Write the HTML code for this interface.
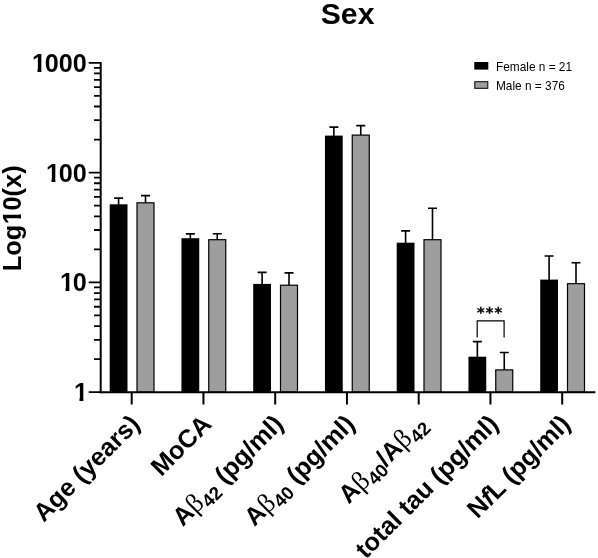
<!DOCTYPE html><html><head><meta charset="utf-8"><title>Sex</title><style>html,body{margin:0;padding:0;background:#fff}svg{display:block}text{font-family:"Liberation Sans",sans-serif;fill:#000}.b{font-weight:bold}</style></head><body>
<svg width="598" height="558" viewBox="0 0 598 558">
<rect width="598" height="558" fill="#fff"/>
<text class="b" x="347.6" y="23.6" font-size="30.2" text-anchor="middle">Sex</text>
<g transform="translate(21.1,218.3) rotate(-90)"><text class="b" font-size="25.4" y="0"><tspan x="-52.92">Log</tspan><tspan x="-5.84">1</tspan><tspan x="7.76">0(x)</tspan></text><path d="M-4.90 -3.40h4.65v4.18h-4.65zM3.72 -3.40h4.49v4.18h-4.49z" fill="#fff"/></g>
<text class="b" y="71.8" font-size="25.2"><tspan x="31.90">1</tspan><tspan x="44.67">000</tspan></text>
<path d="M32.83 68.43h4.61v4.15h-4.61zM41.39 68.43h4.46v4.15h-4.46z" fill="#fff"/>
<text class="b" y="181.6" font-size="25.2"><tspan x="45.91">1</tspan><tspan x="58.68">00</tspan></text>
<path d="M46.84 178.23h4.61v4.15h-4.61zM55.40 178.23h4.46v4.15h-4.46z" fill="#fff"/>
<text class="b" y="291.4" font-size="25.2"><tspan x="59.92">1</tspan><tspan x="72.69">0</tspan></text>
<path d="M60.86 288.03h4.61v4.15h-4.61zM69.41 288.03h4.46v4.15h-4.46z" fill="#fff"/>
<text class="b" y="401.2" font-size="25.2"><tspan x="73.93">1</tspan></text>
<path d="M74.87 397.83h4.61v4.15h-4.61zM83.42 397.83h4.46v4.15h-4.46z" fill="#fff"/>
<path d="M118.60 205.3V198.1M114.10 198.1H123.10" stroke="#000" stroke-width="1.6" fill="none"/>
<path d="M145.50 203.3V195.6M141.00 195.6H150.00" stroke="#000" stroke-width="1.6" fill="none"/>
<rect x="109.70" y="204.3" width="17.80" height="187.9" fill="#000"/>
<rect x="137.00" y="202.8" width="17.00" height="189.4" fill="#9e9e9e" stroke="#000" stroke-width="1.2"/>
<path d="M190.35 239.2V233.9M185.85 233.9H194.85" stroke="#000" stroke-width="1.6" fill="none"/>
<path d="M217.25 240.2V233.7M212.75 233.7H221.75" stroke="#000" stroke-width="1.6" fill="none"/>
<rect x="181.45" y="238.2" width="17.80" height="154.0" fill="#000"/>
<rect x="208.75" y="239.7" width="17.00" height="152.5" fill="#9e9e9e" stroke="#000" stroke-width="1.2"/>
<path d="M262.10 284.9V272.4M257.60 272.4H266.60" stroke="#000" stroke-width="1.6" fill="none"/>
<path d="M289.00 285.7V272.9M284.50 272.9H293.50" stroke="#000" stroke-width="1.6" fill="none"/>
<rect x="253.20" y="283.9" width="17.80" height="108.3" fill="#000"/>
<rect x="280.50" y="285.2" width="17.00" height="107.0" fill="#9e9e9e" stroke="#000" stroke-width="1.2"/>
<path d="M333.85 136.6V127.1M329.35 127.1H338.35" stroke="#000" stroke-width="1.6" fill="none"/>
<path d="M360.75 135.6V125.6M356.25 125.6H365.25" stroke="#000" stroke-width="1.6" fill="none"/>
<rect x="324.95" y="135.6" width="17.80" height="256.6" fill="#000"/>
<rect x="352.25" y="135.1" width="17.00" height="257.1" fill="#9e9e9e" stroke="#000" stroke-width="1.2"/>
<path d="M405.60 243.7V230.9M401.10 230.9H410.10" stroke="#000" stroke-width="1.6" fill="none"/>
<path d="M432.50 240.2V208.3M428.00 208.3H437.00" stroke="#000" stroke-width="1.6" fill="none"/>
<rect x="396.70" y="242.7" width="17.80" height="149.5" fill="#000"/>
<rect x="424.00" y="239.7" width="17.00" height="152.5" fill="#9e9e9e" stroke="#000" stroke-width="1.2"/>
<path d="M477.35 357.7V341.6M472.85 341.6H481.85" stroke="#000" stroke-width="1.6" fill="none"/>
<path d="M504.25 370.4V352.5M499.75 352.5H508.75" stroke="#000" stroke-width="1.6" fill="none"/>
<rect x="468.45" y="356.7" width="17.80" height="35.5" fill="#000"/>
<rect x="495.75" y="369.9" width="17.00" height="22.3" fill="#9e9e9e" stroke="#000" stroke-width="1.2"/>
<path d="M549.10 280.6V256.0M544.60 256.0H553.60" stroke="#000" stroke-width="1.6" fill="none"/>
<path d="M576.00 284.2V262.8M571.50 262.8H580.50" stroke="#000" stroke-width="1.6" fill="none"/>
<rect x="540.20" y="279.6" width="17.80" height="112.6" fill="#000"/>
<rect x="567.50" y="283.7" width="17.00" height="108.5" fill="#9e9e9e" stroke="#000" stroke-width="1.2"/>
<path d="M100.7 61.9V393.2" stroke="#000" stroke-width="2" fill="none"/>
<path d="M99.7 392.2H595.4" stroke="#000" stroke-width="2" fill="none"/>
<path d="M88.7 392.20H100.7M94 359.15H100.7M94 339.81H100.7M94 326.09H100.7M94 315.45H100.7M94 306.76H100.7M94 299.41H100.7M94 293.04H100.7M94 287.42H100.7M88.7 282.40H100.7M94 249.35H100.7M94 230.01H100.7M94 216.29H100.7M94 205.65H100.7M94 196.96H100.7M94 189.61H100.7M94 183.24H100.7M94 177.62H100.7M88.7 172.60H100.7M94 139.55H100.7M94 120.21H100.7M94 106.49H100.7M94 95.85H100.7M94 87.16H100.7M94 79.81H100.7M94 73.44H100.7M94 67.82H100.7M88.7 62.80H100.7" stroke="#000" stroke-width="1.8" fill="none"/>
<path d="M131.70 392.2V404.5M203.45 392.2V404.5M275.20 392.2V404.5M346.95 392.2V404.5M418.70 392.2V404.5M490.45 392.2V404.5M562.20 392.2V404.5" stroke="#000" stroke-width="2" fill="none"/>
<path d="M477.2 337.5V320.8H504.1V337.5" stroke="#000" stroke-width="1.2" fill="none"/>
<text x="476.9" y="316.5" font-size="14.5" letter-spacing="1.2" font-weight="bold" stroke="#000" stroke-width="0.3" style="font-family:'DejaVu Sans',sans-serif">***</text>
<rect x="474.3" y="62" width="14" height="7.6" fill="#000"/>
<rect x="474.8" y="81.7" width="13" height="6.6" fill="#9e9e9e" stroke="#000" stroke-width="1"/>
<text x="496" y="70.7" font-size="11.85" fill="#1a1a1a">Female n = 21</text>
<text x="496" y="89.7" font-size="11.85" fill="#1a1a1a">Male n = 376</text>
<text class="b" font-size="25.3" text-anchor="end" transform="translate(141.1,425.5) rotate(-45)">Age (years)</text>
<text class="b" font-size="25.3" text-anchor="end" transform="translate(212.8,425.5) rotate(-45)">MoCA</text>
<text class="b" font-size="25.3" text-anchor="end" transform="translate(284.6,425.5) rotate(-45)">A<tspan font-family="Liberation Serif,serif" font-weight="normal" font-size="27">β</tspan><tspan font-size="18.5" dy="5.5">42</tspan><tspan dy="-5.5"> (pg/ml)</tspan></text>
<text class="b" font-size="25.3" text-anchor="end" transform="translate(356.3,425.5) rotate(-45)">A<tspan font-family="Liberation Serif,serif" font-weight="normal" font-size="27">β</tspan><tspan font-size="18.5" dy="5.5">40</tspan><tspan dy="-5.5"> (pg/ml)</tspan></text>
<text class="b" font-size="25.3" text-anchor="end" transform="translate(428.1,425.5) rotate(-45)">A<tspan font-family="Liberation Serif,serif" font-weight="normal" font-size="27">β</tspan><tspan font-size="18.5" dy="5.5">40</tspan><tspan dy="-5.5">/A</tspan><tspan font-family="Liberation Serif,serif" font-weight="normal" font-size="27">β</tspan><tspan font-size="18.5" dy="5.5">42</tspan></text>
<text class="b" font-size="25.3" text-anchor="end" transform="translate(499.8,425.5) rotate(-45)">total tau (pg/ml)</text>
<text class="b" font-size="25.3" text-anchor="end" transform="translate(571.6,425.5) rotate(-45)">N<tspan font-style="italic">f</tspan>L (pg/ml)</text>
</svg></body></html>
